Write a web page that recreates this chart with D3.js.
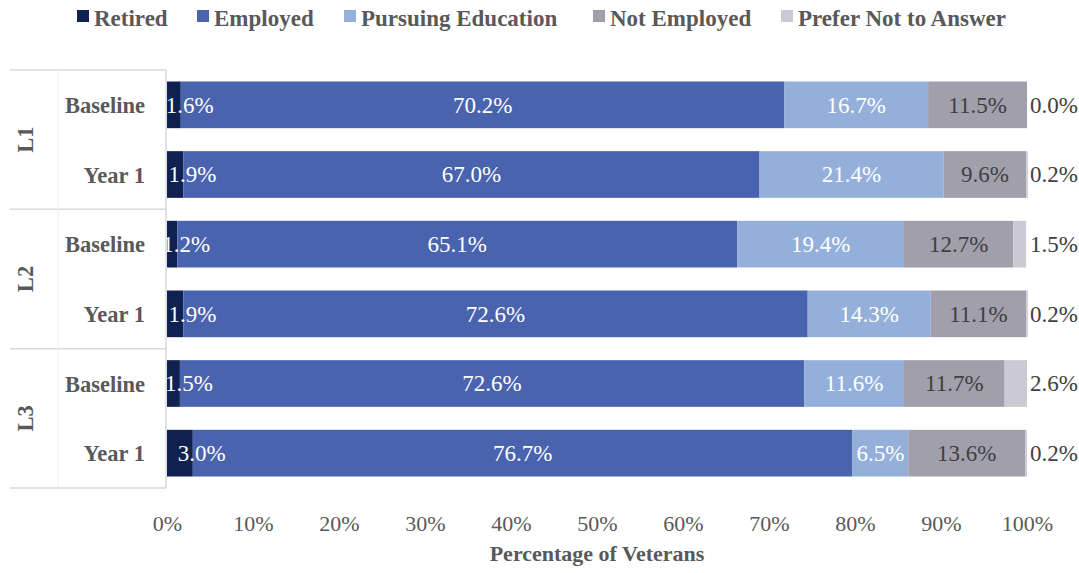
<!DOCTYPE html>
<html>
<head>
<meta charset="utf-8">
<script src="https://cdn.jsdelivr.net/npm/d3@7"></script>
<style>
  body { margin: 0; background: #fff; }
  text { font-family: "Liberation Serif", "Times New Roman", serif; }
</style>
</head>
<body>
<div id="chart"></div>
<script>
// categories
var groups = ["L1", "L2", "L3"];
var periods = ["Baseline", "Year 1"];
var seriesNames = ["Retired", "Employed", "Pursuing Education", "Not Employed", "Prefer Not to Answer"];
var colors = ["#0e2150", "#4a63ae", "#94b0da", "#a09fab", "#cbcad4"];
var ticks = [0, 10, 20, 30, 40, 50, 60, 70, 80, 90, 100];

// values per row: L1 Baseline, L1 Year 1, L2 Baseline, L2 Year 1, L3 Baseline, L3 Year 1
var retired    = [1.6, 1.9, 1.2, 1.9, 1.5, 3.0];
var employed   = [70.2, 67.0, 65.1, 72.6, 72.6, 76.7];
var pursuing   = [16.7, 21.4, 19.4, 14.3, 11.6, 6.5];
var notEmp     = [11.5, 9.6, 12.7, 11.1, 11.7, 13.6];
var preferNot  = [0.0, 0.2, 1.5, 0.2, 2.6, 0.2];

var series = [retired, employed, pursuing, notEmp, preferNot];

var rows = [];
groups.forEach(function(g) {
  periods.forEach(function(p) { rows.push({id: g + "|" + p, group: g, period: p}); });
});
rows.forEach(function(r, i) {
  var acc = 0;
  r.segs = series.map(function(s, k) {
    var seg = {k: k, v: s[i], x0: acc, x1: acc + s[i]};
    acc += s[i];
    return seg;
  });
});

var width = 1079, height = 573;
var margin = {top: 70, right: 52, bottom: 85, left: 167};
var W = width - margin.left - margin.right,
    H = height - margin.top - margin.bottom;

var svg = d3.select("#chart").append("svg")
  .attr("width", width)
  .attr("height", height);

var g = svg.append("g")
  .attr("transform", "translate(" + margin.left + "," + margin.top + ")");

var x = d3.scaleLinear().domain([0, 100]).range([0, W]);
var y = d3.scaleBand()
  .domain(rows.map(function(r) { return r.id; }))
  .range([0, H])
  .paddingInner(0.33)
  .paddingOuter(0.165);

// bars
var rowG = g.selectAll(".row")
  .data(rows)
  .enter().append("g")
  .attr("transform", function(d) { return "translate(0," + y(d.id) + ")"; });

rowG.selectAll("rect")
  .data(function(d) { return d.segs; })
  .enter().append("rect")
  .attr("x", function(d) { return x(d.x0); })
  .attr("y", 0)
  .attr("width", function(d) { return Math.max(0, x(d.x1) - x(d.x0)); })
  .attr("height", y.bandwidth())
  .attr("fill", function(d) { return colors[d.k]; });

// data labels
rowG.selectAll("text")
  .data(function(d) { return d.segs; })
  .enter().append("text")
  .attr("x", function(d) {
    if (d.k === 0) return x(d.x1) + 9;
    if (d.k === 4) return x(100) + 3;
    return (x(d.x0) + x(d.x1)) / 2;
  })
  .attr("y", y.bandwidth() / 2 + 8)
  .attr("text-anchor", function(d) { return d.k === 4 ? "start" : "middle"; })
  .attr("font-size", 23)
  .attr("fill", function(d) { return d.k === 3 ? "#404040" : (d.k === 4 ? "#404040" : "#ffffff"); })
  .text(function(d) { return d.v.toFixed(1) + "%"; });

// left axis frame
var axisColor = "#d9d9d9";
g.append("line")
  .attr("x1", -1).attr("x2", -1)
  .attr("y1", 0).attr("y2", H)
  .attr("stroke", axisColor).attr("stroke-width", 1.5);

var groupH = H / groups.length;
d3.range(groups.length + 1).forEach(function(i) {
  g.append("line")
    .attr("x1", 10 - margin.left).attr("x2", -1)
    .attr("y1", i * groupH).attr("y2", i * groupH)
    .attr("stroke", axisColor).attr("stroke-width", 1.5);
});
g.append("line")
  .attr("x1", 58 - margin.left).attr("x2", 58 - margin.left)
  .attr("y1", 0).attr("y2", H)
  .attr("stroke", "#f0f0f0").attr("stroke-width", 1);

// category labels
g.selectAll(".cat")
  .data(rows)
  .enter().append("text")
  .attr("x", 145 - margin.left)
  .attr("y", function(d) { return y(d.id) + y.bandwidth() / 2 + 8; })
  .attr("text-anchor", "end")
  .attr("font-size", 22.5)
  .attr("font-weight", "bold")
  .attr("fill", "#595959")
  .text(function(d) { return d.period; });

// group labels
g.selectAll(".grp")
  .data(groups)
  .enter().append("text")
  .attr("transform", function(d, i) {
    return "translate(" + (33 - margin.left) + "," + (i * groupH + groupH / 2) + ") rotate(-90)";
  })
  .attr("text-anchor", "middle")
  .attr("font-size", 22.5)
  .attr("font-weight", "bold")
  .attr("fill", "#595959")
  .text(function(d) { return d; });

// x axis
var xAxis = g.append("g")
  .attr("transform", "translate(0," + H + ")")
  .call(d3.axisBottom(x).tickValues(ticks).tickSize(0).tickPadding(0)
    .tickFormat(function(d) { return d + "%"; }));
xAxis.select(".domain").remove();
xAxis.selectAll("text")
  .attr("y", 43)
  .attr("dy", null)
  .attr("font-family", "Liberation Serif")
  .attr("font-size", 22)
  .attr("fill", "#595959");

svg.append("text")
  .attr("x", 597)
  .attr("y", 561)
  .attr("text-anchor", "middle")
  .attr("font-size", 22)
  .attr("font-weight", "bold")
  .attr("fill", "#595959")
  .text("Percentage of Veterans");

// legend
var legendX = [77, 197, 344, 593, 781];
var leg = svg.selectAll(".leg")
  .data(seriesNames)
  .enter().append("g")
  .attr("transform", function(d, i) { return "translate(" + legendX[i] + ",0)"; });
leg.append("rect")
  .attr("x", 0).attr("y", 10)
  .attr("width", 12).attr("height", 12)
  .attr("fill", function(d, i) { return colors[i]; });
leg.append("text")
  .attr("x", 17).attr("y", 26)
  .attr("font-size", 23)
  .attr("font-weight", "bold")
  .attr("fill", "#595959")
  .text(function(d) { return d; });
</script>
</body>
</html>
